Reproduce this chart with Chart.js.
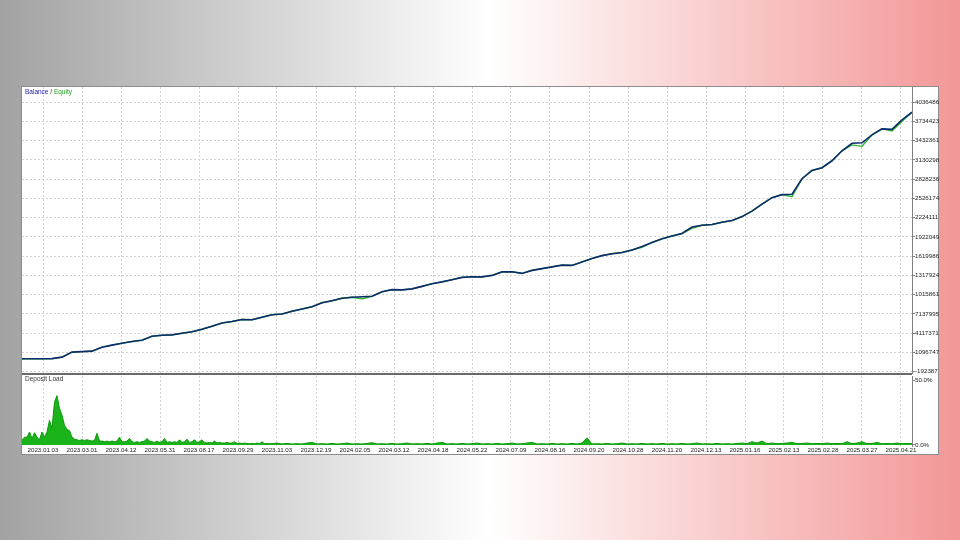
<!DOCTYPE html>
<html>
<head>
<meta charset="utf-8">
<title>Balance / Equity</title>
<script src="https://cdn.jsdelivr.net/npm/chart.js@4.4.1/dist/chart.umd.min.js"></script>
<style>
    html, body { margin: 0; padding: 0; }
    body {
        width: 960px; height: 540px; overflow: hidden; position: relative;
        background: linear-gradient(to right, #a2a2a2 0%, #ffffff 51%, #f39797 100%);
        font-family: 'Liberation Sans', Arial, sans-serif;
    }
    #frame { position: absolute; left: 21px; top: 86px; width: 918px; height: 369px; box-sizing: border-box; border: 1px solid #8c8c8c; background: #fff; }
    .wrap { position: absolute; left: 22px; width: 924px; }
    #mainWrap { top: 87px; height: 287px; }
    #loadWrap { top: 375px; height: 79px; }
    #sep { position: absolute; left: 22px; top: 373px; width: 890px; height: 2px; background: #6a6a6a; }
    .caption { position: absolute; left: 25px; font-size: 6.5px; line-height: 8px; color: #333; white-space: nowrap; }
</style>
</head>
<body>
<div id="frame"></div>
<div class="wrap" id="mainWrap"><canvas id="mainChart"></canvas></div>
<div class="wrap" id="loadWrap"><canvas id="loadChart"></canvas></div>
<div id="sep"></div>
<div class="caption" style="top:88px"><span style="color:#1c1ca8">Balance</span> / <span style="color:#1aa31a">Equity</span></div>
<div class="caption" style="top:375px">Deposit Load</div>

<script>
// Date labels under the deposit load panel
const dateLabels = ['2023.01.03', '2023.03.01', '2023.04.12', '2023.05.31', '2023.08.17', '2023.09.29',
    '2023.11.03', '2023.12.19', '2024.02.05', '2024.03.12', '2024.04.18', '2024.05.22', '2024.07.09',
    '2024.08.16', '2024.09.20', '2024.10.28', '2024.11.20', '2024.12.13', '2025.01.16', '2025.02.13',
    '2025.02.28', '2025.03.27', '2025.04.21'];

// Right axis of the balance panel (labels as printed on the picture)
const yTickValues = [4036486, 3734423, 3432361, 3130298, 2828236, 2526174, 2224111, 1922049,
    1619986, 1317924, 1015861, 713799, 411737, 109674, -192387];
const yTickLabels = ['4036486', '3734423', '3432361', '3130298', '2828236', '2526174', '2224111', '1922049',
    '1619986', '1317924', '1015861', '7137995', '4117371', '1096747', '-192387'];

// Balance, one value every 4 x-units
const balance = [10000, 10000, 10000, 13100, 36570, 114790, 122610, 130430, 193000, 224290,
    255570, 282170, 302500, 365070, 380720, 385410, 412000, 435470, 474580, 521500,
    573130, 595030, 627880, 623180, 662290, 701400, 712350, 756150, 792130, 826540,
    889110, 920400, 959510, 975150, 982970, 990790, 1061190, 1095600, 1092470, 1108120,
    1147220, 1189460, 1217620, 1252030, 1288010, 1298960, 1295830, 1319300, 1374050, 1377180,
    1350580, 1397510, 1425670, 1452260, 1480420, 1476000, 1530480, 1585230, 1629030, 1658750,
    1679090, 1718190, 1772940, 1835520, 1893400, 1937200, 1976300, 2077980, 2106140, 2117090,
    2153070, 2179660, 2242230, 2328270, 2437770, 2539450, 2586380, 2592640, 2836670, 2966500,
    3008740, 3118240, 3274670, 3391990, 3399820, 3524960, 3618820, 3611000, 3759600, 3880060];

// How far equity dips under balance at the same points
const equityDrawdown = [0, 0, 0, 0, 0, 0, 0, 0, 0, 0,
    0, 0, 0, 0, 0, 0, 0, 0, 0, 0,
    0, 0, 0, 0, 0, 0, 0, 0, 0, 0,
    0, 0, 0, 0, 30000, 0, 0, 0, 0, 0,
    0, 0, 0, 0, 0, 0, 0, 0, 0, 0,
    0, 0, 0, 0, 0, 0, 0, 0, 0, 0,
    0, 0, 15000, 0, 0, 0, 0, 20000, 0, 0,
    0, 0, 0, 0, 0, 0, 0, 40000, 0, 0,
    0, 0, 0, 25000, 55000, 0, 0, 25000, 20000, 0];

// Deposit load %, first part one value per x-unit, then one every 2 units
const depositLoadEarly = [4, 6, 6, 10, 5, 9.5, 6, 4, 10, 6,
    10, 19, 13, 33, 38, 28, 23, 15, 12, 11,
    6, 4.5, 4, 3.5, 4, 3.5, 4, 3.5, 3, 3.5,
    9, 3, 3, 2.5, 3, 2.5, 3, 2.5, 3, 6,
    2.5, 2.5, 3, 5, 2.5, 2, 2.5, 2, 2.5, 3,
    5, 3, 2.5, 2, 3, 2, 2.5, 5, 2, 2.5,
    2, 2.5, 2, 4, 2, 2.5, 4.5, 2, 2.5, 4,
    2, 2.5, 4, 2, 1.5, 2, 1.5, 3, 1.5, 2,
    1.5, 1.5, 2, 1.5, 1.5, 2.5, 1.2, 1.5, 1.2, 1.5,
    1.2, 1, 1.2, 1, 1.5, 1, 2.5, 1, 1.2, 1];
const depositLoadLate = [1, 1.5, 0.8, 1.2, 0.8, 1, 0.8, 1.5, 2, 0.8,
    1, 0.8, 1.2, 0.8, 1, 1.5, 0.8, 1, 0.8, 1.2,
    1.8, 0.8, 1, 0.8, 1.2, 0.8, 1, 1.5, 0.8, 1,
    0.8, 1.2, 0.8, 1.5, 2, 0.8, 1, 0.8, 1.2, 0.8,
    1, 1.5, 0.8, 1, 0.8, 1.2, 0.8, 1, 1.5, 0.8,
    1, 1.5, 2, 0.8, 1, 0.8, 1.2, 0.8, 1, 0.8,
    1.2, 0.8, 1.5, 5.5, 0.8, 1, 0.8, 1.2, 0.8, 1,
    1.5, 0.8, 1, 0.8, 1.2, 0.8, 1, 0.8, 1.2, 0.8,
    1, 0.8, 1.2, 0.8, 1, 1.5, 0.8, 1, 0.8, 1.2,
    0.8, 1, 0.8, 1.2, 1.5, 1, 2.5, 1.5, 3, 1,
    1.5, 1, 1.2, 1.5, 2, 1, 1.2, 1.5, 1, 1.2,
    1, 1.5, 1, 1.2, 1, 2.5, 1, 1.5, 2.5, 1,
    1.2, 2, 1, 1.2, 1, 1.5, 1, 1.2, 1];

const X_MAX = 356;
const AXIS_WIDTH = 34;
const tickFont = { family: "'Liberation Sans', Arial, sans-serif", size: 6.2 };
const gridColor = '#d4d4d4';
const axisColor = '#808080';
const xTickPositions = dateLabels.map((_, k) => 8.4 + 15.6 * k);

const balancePoints = balance.map((v, j) => ({ x: j * 4, y: v }));
const equityPoints = balance.map((v, j) => ({ x: j * 4, y: v - equityDrawdown[j] }));
const loadPoints = depositLoadEarly.map((v, i) => ({ x: i, y: v }))
    .concat(depositLoadLate.map((v, m) => ({ x: 100 + 2 * m, y: v })));

function setXTicks(scale) {
    scale.ticks = xTickPositions.map(v => ({ value: v }));
}

function noPadding(scale) {
    scale.paddingTop = 0;
    scale.paddingBottom = 0;
    scale.paddingLeft = 0;
    scale.paddingRight = 0;
}

const commonOptions = {
    responsive: true,
    maintainAspectRatio: false,
    animation: false,
    events: [],
    plugins: { legend: { display: false }, tooltip: { enabled: false } }
};

// Balance / Equity panel
new Chart(document.getElementById('mainChart'), {
    type: 'line',
    data: {
        datasets: [{
            label: 'Balance',
            data: balancePoints,
            borderColor: '#0c2c6c',
            borderWidth: 1.6,
            pointRadius: 0,
            tension: 0
        }, {
            label: 'Equity',
            data: equityPoints,
            borderColor: '#2fb52f',
            borderWidth: 1.4,
            pointRadius: 0,
            tension: 0
        }]
    },
    options: {
        ...commonOptions,
        layout: { padding: 0 },
        scales: {
            x: {
                type: 'linear', min: 0, max: X_MAX,
                afterBuildTicks: setXTicks,
                afterFit: s => { s.height = 0; noPadding(s); },
                ticks: { display: false },
                grid: { color: gridColor, drawTicks: false },
                border: { display: false, dash: [2, 2] }
            },
            y: {
                position: 'right',
                min: -228366, max: 4275820,
                afterBuildTicks: s => { s.ticks = yTickValues.slice().reverse().map(v => ({ value: v })); },
                afterFit: s => { s.width = AXIS_WIDTH; noPadding(s); },
                ticks: {
                    color: '#222', font: tickFont, padding: 0, autoSkip: false,
                    callback: value => yTickLabels[yTickValues.indexOf(value)]
                },
                grid: { color: gridColor, tickColor: axisColor, tickLength: 3 },
                border: { color: axisColor, dash: [2, 2] }
            }
        }
    }
});

// Deposit load panel
new Chart(document.getElementById('loadChart'), {
    type: 'line',
    data: {
        datasets: [{
            label: 'Deposit Load',
            data: loadPoints,
            borderColor: '#0a9a0a',
            backgroundColor: '#1ab41a',
            borderWidth: 1,
            fill: 'origin',
            pointRadius: 0,
            tension: 0
        }]
    },
    options: {
        ...commonOptions,
        layout: { padding: { top: 1 } },
        scales: {
            x: {
                type: 'linear', min: 0, max: X_MAX,
                afterBuildTicks: setXTicks,
                afterFit: s => { s.height = 8; noPadding(s); },
                ticks: {
                    color: '#222', font: tickFont, padding: 1, maxRotation: 0, autoSkip: false,
                    callback: (value, index) => dateLabels[index]
                },
                grid: { color: gridColor, drawTicks: false },
                border: { display: false, dash: [2, 2] }
            },
            y: {
                position: 'right',
                min: -0.77, max: 53.08,
                afterBuildTicks: s => { s.ticks = [{ value: 0 }, { value: 50 }]; },
                afterFit: s => { s.width = AXIS_WIDTH; noPadding(s); },
                ticks: {
                    color: '#222', font: tickFont, padding: 0, autoSkip: false,
                    callback: value => value.toFixed(1) + '%'
                },
                grid: { drawOnChartArea: false, tickColor: axisColor, tickLength: 3 },
                border: { color: axisColor }
            }
        }
    }
});
</script>
</body>
</html>
